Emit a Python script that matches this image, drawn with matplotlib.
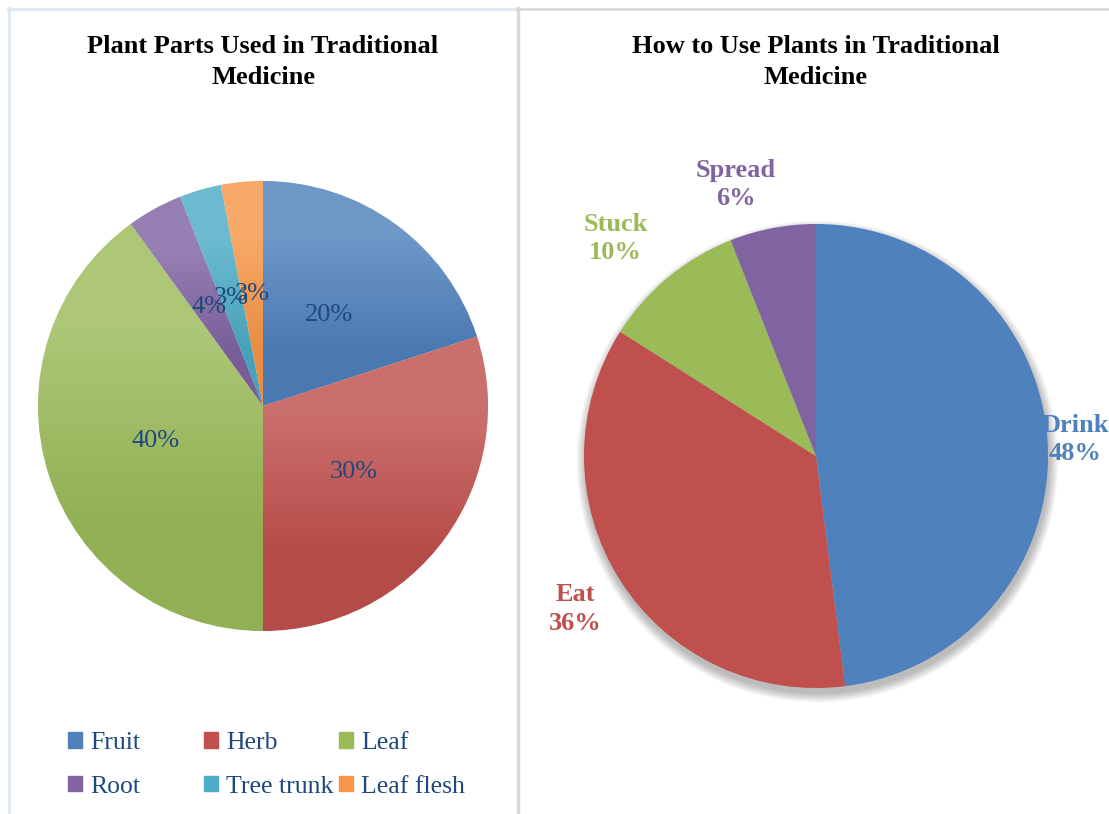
import numpy as np
import matplotlib
matplotlib.use('Agg')
import matplotlib.pyplot as plt
import matplotlib.patches as mpatches
from matplotlib.colors import to_rgb
from matplotlib.lines import Line2D

# data
parts = ['Fruit', 'Herb', 'Leaf', 'Root', 'Tree trunk', 'Leaf flesh']
parts_pct = [20, 30, 40, 4, 3, 3]
parts_colors = ['#4F81BD', '#C0504D', '#9BBB59', '#8064A2', '#4BACC6', '#F79646']

uses = ['Drink', 'Eat', 'Stuck', 'Spread']
uses_pct = [48, 36, 10, 6]
uses_colors = ['#4F81BD', '#C0504D', '#9BBB59', '#8064A2']

W, H = 1109, 814
SERIF = ['Liberation Serif', 'DejaVu Serif']
TXT = '#1F497D'

fig = plt.figure(figsize=(W / 100, H / 100), dpi=100)
fig.patch.set_facecolor('white')


def px_axes(cx, cy, r):
    # axes box in figure fraction for a pie of radius r centred at pixel (cx, cy)
    return fig.add_axes([(cx - r) / W, (H - cy - r) / H, 2 * r / W, 2 * r / H])


def mix(c, other, t):
    c = np.array(to_rgb(c))
    return tuple(c * (1 - t) + np.array(other) * t)


# panel frames
fig.add_artist(Line2D([8 / W, 517 / W], [1 - 8.5 / H, 1 - 8.5 / H], transform=fig.transFigure,
                      color='#DCE6F2', lw=2))
fig.add_artist(Line2D([8.5 / W, 8.5 / W], [0, 1 - 8 / H], transform=fig.transFigure,
                      color='#DCE6F2', lw=2))
fig.add_artist(Line2D([517 / W, 1], [1 - 8.5 / H, 1 - 8.5 / H], transform=fig.transFigure,
                      color='#D9D9D9', lw=2))
fig.add_artist(Line2D([517.5 / W, 517.5 / W], [0, 1 - 8 / H], transform=fig.transFigure,
                      color='#D9D9D9', lw=2.5))

# ---- left pie ----
ax1 = px_axes(263, 406, 225)
wedges, _, autotexts = ax1.pie(parts_pct, colors=parts_colors, startangle=90, counterclock=False,
                               radius=1, autopct=lambda p: f'{p:.0f}%', pctdistance=0.5,
                               wedgeprops=dict(edgecolor='white', linewidth=0.6),
                               textprops=dict(fontsize=19, color=TXT, family=SERIF))
for w in wedges:
    col = w.get_facecolor()[:3]
    top = mix(col, (1, 1, 1), 0.18)
    bot = mix(col, (0, 0, 0), 0.06)
    grad = np.array([top, bot]).reshape(2, 1, 3)
    ext = w.get_path().get_extents()
    im = ax1.imshow(grad, extent=[ext.x0, ext.x1, ext.y0, ext.y1], aspect='auto',
                    interpolation='bilinear', origin='upper', zorder=w.get_zorder() + 0.1)
    im.set_clip_path(w)
for t in autotexts:
    t.set_zorder(5)
ax1.set_xlim(-1, 1)
ax1.set_ylim(-1, 1)
ax1.set_aspect('equal')
ax1.axis('off')

fig.text(263 / W, 1 - 62 / H, 'Plant Parts Used in Traditional\nMedicine', ha='center', va='center',
         fontsize=19, fontweight='bold', family=SERIF, linespacing=1.4)

# legend in three columns
cols_x = [68, 204, 339]
for j in range(3):
    idx = [j, j + 3]
    handles = [mpatches.Patch(color=parts_colors[i]) for i in idx]
    fig.legend(handles, [parts[i] for i in idx], loc='upper left',
               bbox_to_anchor=(cols_x[j] / W, 1 - 732 / H), bbox_transform=fig.transFigure,
               frameon=False, ncol=1, prop=dict(family=SERIF, size=18.5),
               labelcolor=TXT, handlelength=0.55, handleheight=0.55, handletextpad=0.3,
               labelspacing=0.85, borderpad=0, borderaxespad=0)

# ---- right pie ----
ax2 = px_axes(816, 456, 232)
for i in range(14):
    ax2.add_patch(mpatches.Circle((0.006, -0.024), 1 + 0.003 * i, color='black', alpha=0.018,
                                  lw=0, zorder=0, clip_on=False))
wedges2, _ = ax2.pie(uses_pct, colors=uses_colors, startangle=90, counterclock=False, radius=1,
                     wedgeprops=dict(linewidth=0))
label_r = [1.12, 1.23, 1.275, 1.22]
label_shift = [0, 0, 3, 5.6]
for w, name, pct, c, r, s in zip(wedges2, uses, uses_pct, uses_colors, label_r, label_shift):
    a = np.deg2rad((w.theta1 + w.theta2) / 2 + s)
    ax2.text(r * np.cos(a), r * np.sin(a), f'{name}\n{pct}%', ha='center', va='center',
             fontsize=19, fontweight='bold', color=c, family=SERIF, linespacing=1.3,
             clip_on=False)
ax2.set_xlim(-1, 1)
ax2.set_ylim(-1, 1)
ax2.set_aspect('equal')
ax2.axis('off')

fig.text(816 / W, 1 - 62 / H, 'How to Use Plants in Traditional\nMedicine', ha='center', va='center',
         fontsize=19, fontweight='bold', family=SERIF, linespacing=1.4)

plt.savefig('out.png', dpi=100)
